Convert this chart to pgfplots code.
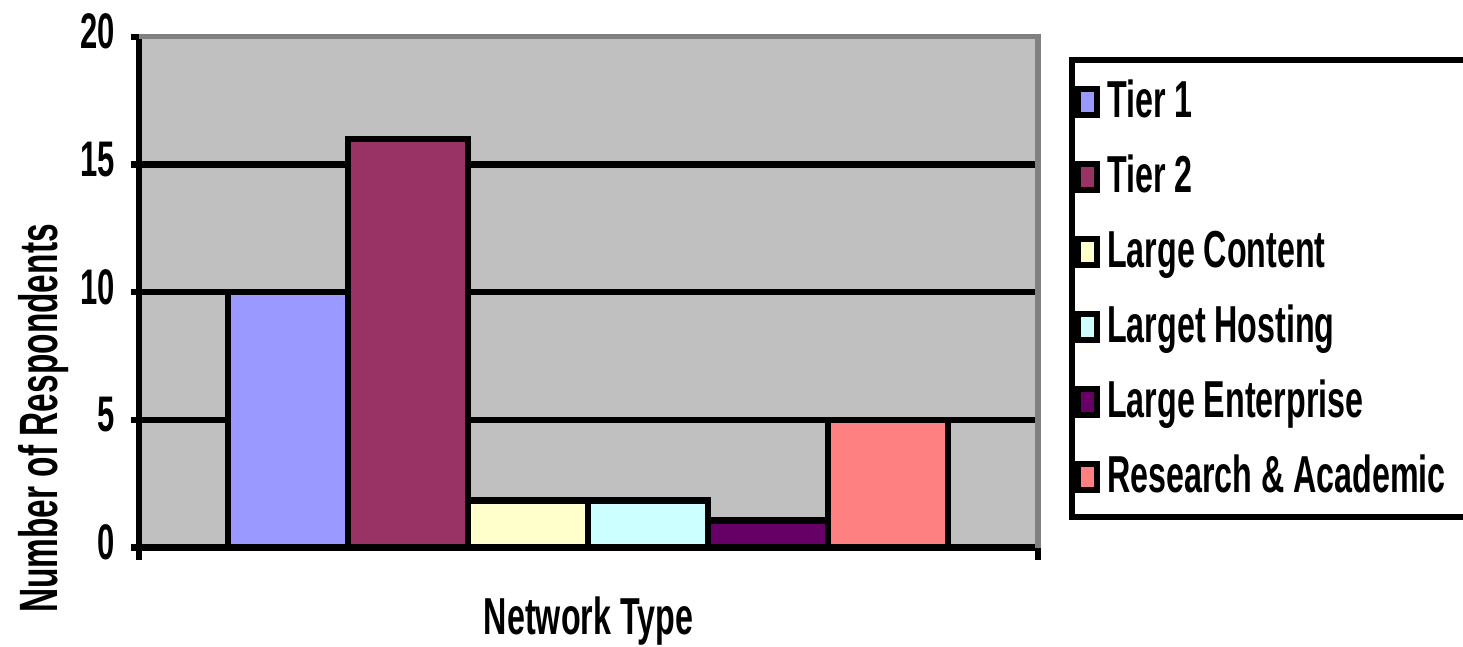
\documentclass[border=0pt]{standalone}
\usepackage{fontspec}
\setmainfont{Liberation Sans}[FakeStretch=0.62]
\usepackage{pgfplots}
\pgfplotsset{compat=1.18}

% classic spreadsheet palette
\definecolor{tierone}{HTML}{9999FF}
\definecolor{tiertwo}{HTML}{993366}
\definecolor{content}{HTML}{FFFFCC}
\definecolor{hosting}{HTML}{CCFFFF}
\definecolor{enterprise}{HTML}{660066}
\definecolor{research}{HTML}{FF8080}
\definecolor{plotgray}{HTML}{C0C0C0}
\definecolor{framegray}{HTML}{808080}

\newcommand{\chartfont}{\bfseries\fontsize{26}{30}\selectfont}
\newcommand{\ylabfont}{\bfseries\fontsize{27}{30}\selectfont}
\newcommand{\tickfont}{\bfseries\fontsize{25}{30}\selectfont}
% legend entries are padded so the box runs on past the right edge
\newcommand{\entry}[1]{\makebox[190pt][l]{#1}}

\pgfplotsset{
  netbar/.style={
    ybar, bar width=1, bar shift=0pt,
    draw=black, line width=3.2pt, fill=#1,
    legend image code/.code={\draw[##1, line width=3pt] (0pt,1pt) rectangle (9.5pt,14pt);},
  },
}

\begin{document}
\begin{tikzpicture}
\begin{axis}[
  name=ax,
  at={(0,0)}, anchor=south west,
  scale only axis,
  width=449.5pt, height=255.4pt,
  xmin=-1.242, xmax=6.25,
  ymin=0, ymax=20,
  clip=false,
  axis x line*=bottom, axis y line*=left,
  axis line style={black, line width=3.2pt, -},
  axis background/.style={fill=plotgray},
  xtick=\empty,
  extra x ticks={-1.242,6.25},
  extra x tick labels={},
  extra x tick style={major tick length=6pt},
  ytick={0,5,10,15},
  extra y ticks={20},
  extra y tick style={grid=none},
  ymajorgrids,
  major grid style={black, line width=3.2pt},
  tick align=outside,
  major tick length=4pt,
  tick style={black, line width=3.2pt},
  yticklabel style={font=\tickfont, inner sep=0pt, anchor=east, xshift=-8pt, yshift=2.75pt},
  /pgf/number format/assume math mode=true,
  xlabel={Network Type},
  xlabel style={font=\chartfont, at={(axis description cs:0.5,-0.1709)}, anchor=base},
  ylabel={Number of Respondents},
  ylabel style={font=\ylabfont, at={(axis description cs:-0.0901,0.2529)}, anchor=base},
  legend style={
    at={(rel axis cs:1.0345,0.9605)}, anchor=north west,
    draw=black, line width=3.2pt, fill=white,
    inner xsep=1.5pt, inner ysep=3.5pt,
    row sep=3.5pt, column sep=3.5pt,
    font={\chartfont\spaceskip=0pt\relax},
    cells={anchor=base west},
    /tikz/every even column/.append style={nodes={inner sep=0pt, text height=25pt, text depth=9pt, anchor=base west}},
  },
  after end axis/.code={
    \draw[framegray, line width=2.6pt] (rel axis cs:0,1) -- (rel axis cs:1,1) -- (rel axis cs:1,0);
  },
]
\addplot[netbar=tierone]    coordinates {(0,10)};
\addplot[netbar=tiertwo]    coordinates {(1,16)};
\addplot[netbar=content]    coordinates {(2,1.85)};
\addplot[netbar=hosting]    coordinates {(3,1.85)};
\addplot[netbar=enterprise] coordinates {(4,1.06)};
\addplot[netbar=research]   coordinates {(5,5)};
\legend{\entry{Tier 1}, \entry{Tier 2}, \entry{Large Content}, \entry{Larget Hosting}, \entry{Large Enterprise}, \entry{Research \& Academic}}
\end{axis}
\pgfresetboundingbox
\path[use as bounding box] (ax.south west) ++(-69.5pt,-49.65pt) rectangle ++(731.5pt,323.5pt);
\end{tikzpicture}
\end{document}
